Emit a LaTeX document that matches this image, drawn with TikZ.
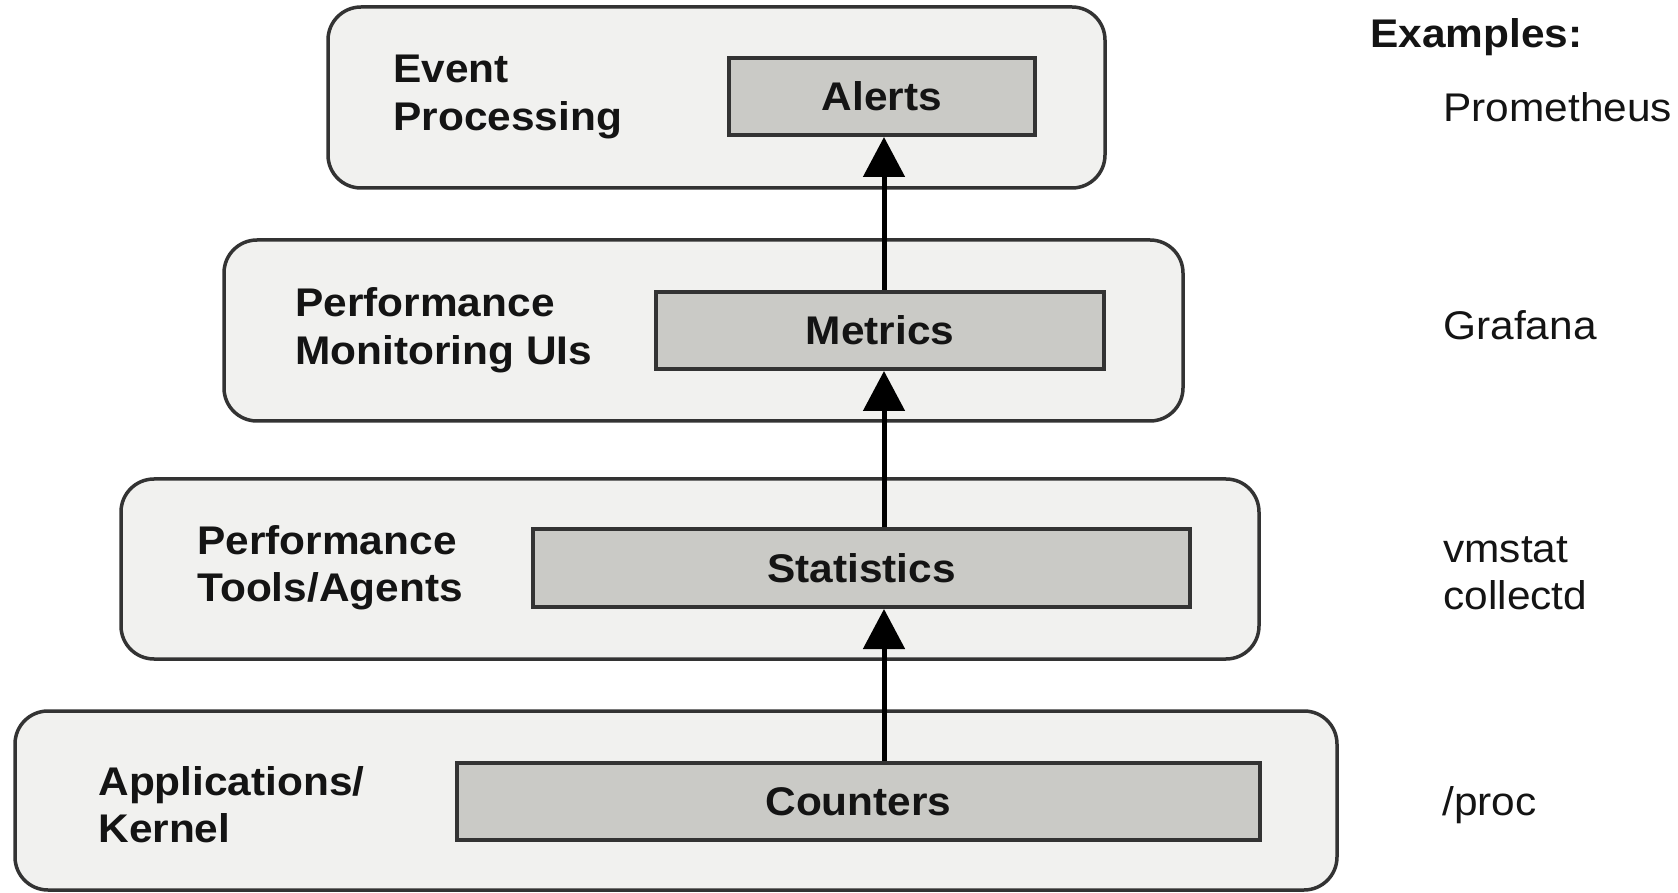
\documentclass[tikz,border=0pt]{standalone}
\usepackage{fontspec}
\setmainfont{Liberation Sans}[FakeStretch=1.06]
\usetikzlibrary{arrows.meta}

\definecolor{layerfill}{HTML}{F1F1EF}
\definecolor{boxfill}{HTML}{CACAC6}
\definecolor{edge}{HTML}{333333}
\definecolor{ink}{HTML}{141414}

\newcommand\labelfont{\fontsize{20pt}{23.75pt}\selectfont}
\newcommand\twolines[2]{\begin{tabular}[t]{@{}l@{}}#1\\#2\end{tabular}}

\tikzset{
  layer/.style={draw=edge, fill=layerfill, line width=1.75pt, rounded corners=16.5pt, inner sep=0pt},
  stage/.style={draw=edge, fill=boxfill, line width=2pt, inner sep=0pt, font=\labelfont\bfseries, text=ink},
  caption/.style={inner sep=0pt, anchor=base west, font=\labelfont\bfseries, text=ink},
  example/.style={inner sep=0pt, anchor=base west, font=\labelfont, text=ink},
  flow/.style={line width=2.5pt, draw=black, -{Triangle[width=20.5pt,length=20pt]}},
}

\begin{document}
\begin{tikzpicture}[x=0.5pt,y=-0.5pt]
  % canvas, in pixel units with y pointing down
  \fill[white] (0,0) rectangle (1678,893);
  \useasboundingbox (0,0) rectangle (1678,893);

  % layers
  \node[layer, minimum width=388.5pt, minimum height=90.5pt] (evt)  at (716.5,97.5) {};
  \node[layer, minimum width=479.5pt, minimum height=90.5pt] (ui)   at (703.5,330.5) {};
  \node[layer, minimum width=569pt,   minimum height=90pt]   (tool) at (690,569) {};
  \node[layer, minimum width=661pt,   minimum height=89.5pt] (kern) at (676,800.5) {};

  % data stages inside each layer
  \node[stage, minimum width=153pt,   minimum height=38.5pt] (alerts)     at (882,96.5) {Alerts};
  \node[stage, minimum width=224pt,   minimum height=38.5pt] (metrics)    at (880,330.5) {Metrics};
  \node[stage, minimum width=328.5pt, minimum height=39pt]   (statistics) at (861.5,568) {Statistics};
  \node[stage, minimum width=401.5pt, minimum height=38.5pt] (counters)   at (858.5,801.5) {Counters};

  % layer names
  \node[caption] (evtlabel)  at (393,83)  {\twolines{Event}{Processing}};
  \node[caption] (uilabel)   at (295,317) {\twolines{Performance}{Monitoring UIs}};
  \node[caption] (toollabel) at (197,554) {\twolines{Performance}{Tools/Agents}};
  \node[caption] (kernlabel) at (98,795)  {\twolines{Applications/}{Kernel}};

  % example column
  \node[caption] (exhead) at (1370,48)  {Examples:};
  \node[example] (ex1)    at (1443,122) {Prometheus};
  \node[example] (ex2)    at (1443,340) {Grafana};
  \node[example] (ex3)    at (1443,562) {\twolines{vmstat}{collectd}};
  \node[example] (ex4)    at (1442,815) {/proc};

  % upward data flow
  \coordinate (ax) at (884,0);
  \draw[flow] (counters.north -| ax)   -- (statistics.south -| ax);
  \draw[flow] (statistics.north -| ax) -- (metrics.south -| ax);
  \draw[flow] (metrics.north -| ax)    -- (alerts.south -| ax);
\end{tikzpicture}
\end{document}
